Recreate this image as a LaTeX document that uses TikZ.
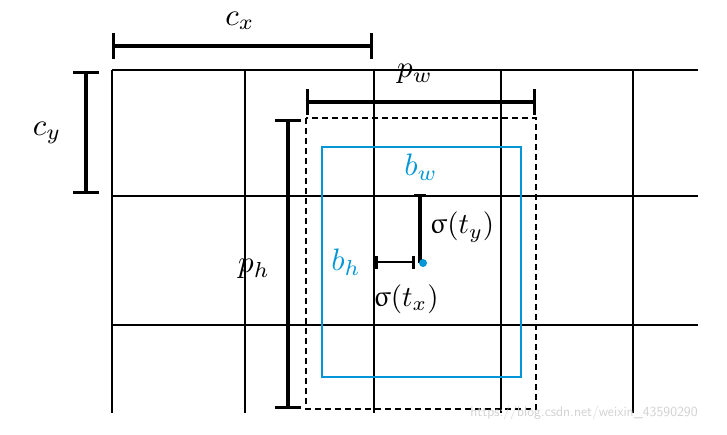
\documentclass[tikz,border=0pt]{standalone}
\usepackage{amsmath}
\usepackage{amssymb}
\usepackage{upgreek}
\usepackage{tikz}
\usepackage{xcolor}
\usetikzlibrary{arrows.meta}

\definecolor{boxblue}{RGB}{0,150,215}

\tikzset{
	grid/.style={line width=1.6pt},
	dim/.style={line width=3.4pt, {Bar[width=26pt]}-{Bar[width=26pt]}},
	smalldim/.style={line width=3.4pt},
	lbl/.style={inner sep=0pt, scale=3.1},
	sig/.style={inner sep=0pt, scale=2.9}
}

\begin{document}
\begin{tikzpicture}[x=1pt, y=-1pt, semithick]
		\useasboundingbox (0,0) rectangle (727,434);
		% grid
		\node (v1t) at (112, 70) {};
		\node (v1b) at (112, 413) {};
		\node (v2t) at (245, 70) {};
		\node (v2b) at (245, 413) {};
		\node (v3t) at (374, 70) {};
		\node (v3b) at (374, 413) {};
		\node (v4t) at (501, 70) {};
		\node (v4b) at (501, 413) {};
		\node (v5t) at (633, 70) {};
		\node (v5b) at (633, 413) {};
		\node (h1l) at (112, 70) {};
		\node (h1r) at (698, 70) {};
		\node (h2l) at (112, 196) {};
		\node (h2r) at (698, 196) {};
		\node (h3l) at (112, 325) {};
		\node (h3r) at (698, 325) {};
		\draw [grid] (v1t.center) to (v1b.center);
		\draw [grid] (v2t.center) to (v2b.center);
		\draw [grid] (v3t.center) to (v3b.center);
		\draw [grid] (v4t.center) to (v4b.center);
		\draw [grid] (v5t.center) to (v5b.center);
		\draw [grid] (h1l.center) to (h1r.center);
		\draw [grid] (h2l.center) to (h2r.center);
		\draw [grid] (h3l.center) to (h3r.center);
		% cell size
		\node (cxl) at (112, 46) {};
		\node (cxr) at (373, 46) {};
		\node (cyt) at (86, 71) {};
		\node (cyb) at (86, 194) {};
		\draw [dim] (cxl.center) to (cxr.center);
		\draw [dim] (cyt.center) to (cyb.center);
		\node [lbl] (cx) at (240, 21) {$c_x$};
		\node [lbl] (cy) at (47, 133) {$c_y$};
		% prior box
		\node (pa) at (306, 118) {};
		\node (pb) at (536, 409) {};
		\draw [line width=1.8pt, dash pattern=on 6pt off 4pt] (pa.center) rectangle (pb.center);
		\node (pwl) at (306, 102) {};
		\node (pwr) at (536, 102) {};
		\node (pht) at (288, 119) {};
		\node (phb) at (288, 409) {};
		\draw [dim] (pwl.center) to (pwr.center);
		\draw [dim] (pht.center) to (phb.center);
		\node [lbl] (pw) at (415, 74) {$p_w$};
		\node [lbl] (ph) at (254, 269) {$p_h$};
		% predicted box
		\node (ba) at (322, 147) {};
		\node (bb) at (521, 377) {};
		\draw [draw=boxblue, line width=2.8pt] (ba.center) rectangle (bb.center);
		\node [lbl, text=boxblue] (bw) at (421, 167) {$b_w$};
		\node [lbl, text=boxblue] (bh) at (346, 262) {$b_h$};
		% offsets
		\node (tyt) at (420, 194) {};
		\node (tyb) at (420, 263) {};
		\node (txl) at (375, 262) {};
		\node (txr) at (415, 262) {};
		\draw [smalldim, {Bar[width=12pt]}-] (tyt.center) to (tyb.center);
		\draw [smalldim, line width=2.6pt, {Bar[width=13pt]}-{Bar[width=13pt]}] (txl.center) to (txr.center);
		\node [circle, fill=boxblue, inner sep=0pt, minimum size=8pt] (ctr) at (423, 263) {};
		\node [sig] (sy) at (462, 227) {$\upsigma(t_y)$};
		\node [sig] (sx) at (406, 299) {$\upsigma(t_x)$};
		\node [text=black!18, font=\sffamily\fontsize{14}{16}\selectfont] (wm) at (584, 413) {https://blog.csdn.net/weixin\_43590290};
    \end{tikzpicture}
\end{document}
